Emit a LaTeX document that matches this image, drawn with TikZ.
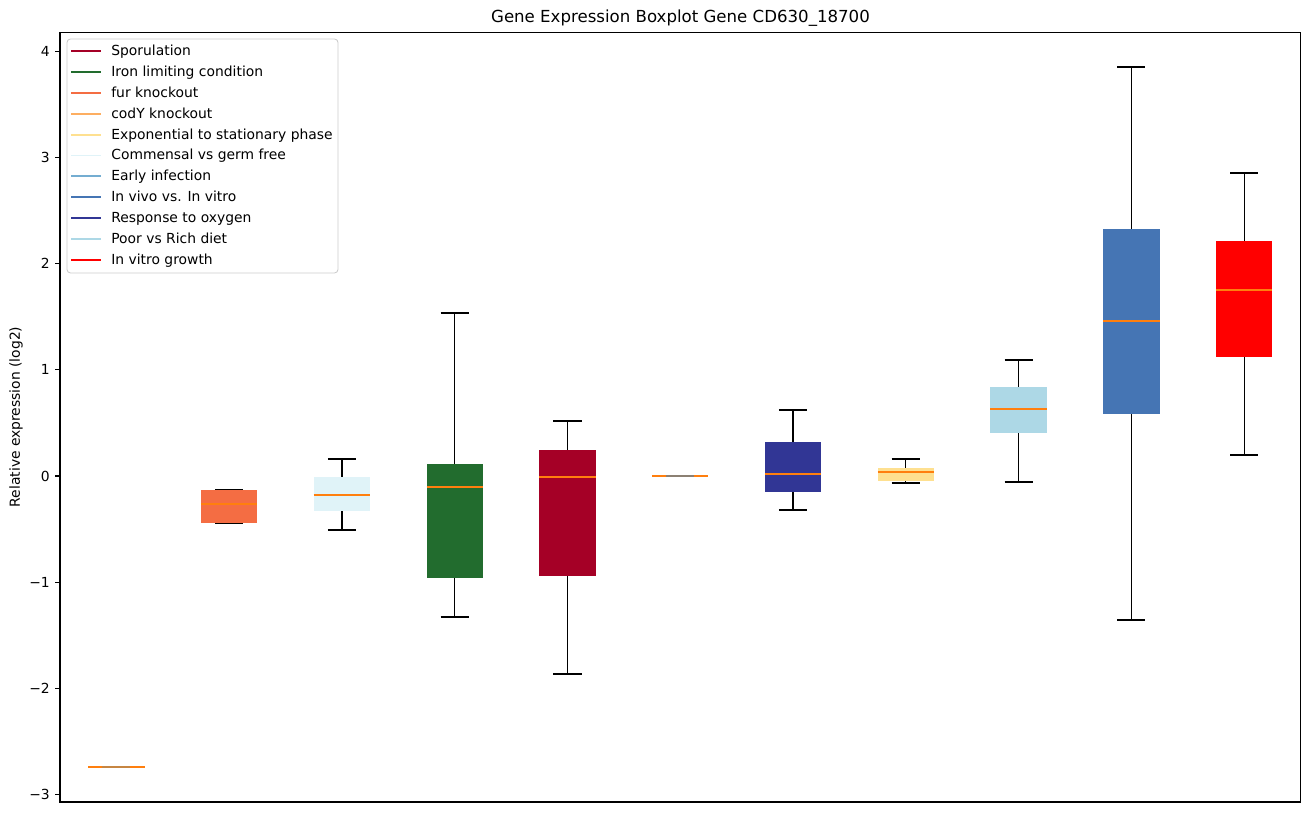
\documentclass[tikz,border=0pt]{standalone}
\usepackage{fontspec}
\setmainfont{DejaVu Sans}
\definecolor{sporRed}{HTML}{A50026}
\definecolor{ironGreen}{RGB}{34,108,46}
\definecolor{furOrange}{HTML}{F46D43}
\definecolor{codyOrange}{HTML}{FDAE61}
\definecolor{expYellow}{HTML}{FEE090}
\definecolor{commBlue}{HTML}{E0F3F8}
\definecolor{earlyBlue}{HTML}{74ADD1}
\definecolor{vivoBlue}{HTML}{4575B4}
\definecolor{oxyBlue}{HTML}{313695}
\definecolor{poorBlue}{HTML}{ADD8E6}
\definecolor{vitroRed}{HTML}{FF0000}
\definecolor{medOrange}{HTML}{FF7F0E}
\definecolor{capBrown}{HTML}{C68642}
\definecolor{legGrey}{RGB}{204,204,204}

\begin{document}
\begin{tikzpicture}[x=0.02cm,y=0.02cm,
    font=\fontsize{7.9}{9.5}\selectfont,
    whisker/.style={black,line width=0.75pt},
    median/.style={medOrange,line width=0.75pt},
    spine/.style={black,line width=0.7pt},
    legline/.style={line width=1.1pt},
    legtext/.style={anchor=base west,inner sep=0pt}]

  \useasboundingbox (0,0) rectangle (1309,813);

  % title and axis label
  \node[font=\fontsize{9.45}{11}\selectfont] (title) at (680.5,795) {Gene Expression Boxplot Gene CD630\_18700};
  \node[rotate=90] (ylabel) at (16,396) {Relative expression (log2)};

  % data area
  \begin{scope}[x=2.256cm,y=2.124cm,shift={(0.072cm,6.74cm)}]

    % boxes: position/low cap/q1/median/q3/high cap/colour
    \foreach \p/\lo/\qa/\med/\qb/\hi/\col in {
        2/-0.443/-0.443/-0.264/-0.132/-0.132/furOrange,
        3/-0.508/-0.330/-0.179/-0.009/0.160/commBlue,
        4/-1.328/-0.960/-0.104/0.113/1.535/ironGreen,
        5/-1.864/-0.942/-0.009/0.245/0.518/sporRed,
        7/-0.320/-0.151/0.019/0.320/0.621/oxyBlue,
        8/-0.066/-0.047/0.038/0.075/0.160/expYellow,
        9/-0.056/0.405/0.631/0.838/1.092/poorBlue,
        10/-1.356/0.584/1.460/2.326/3.851/vivoBlue,
        11/0.198/1.120/1.751/2.213/2.853/vitroRed} {
      \draw[whisker] (\p,\lo) -- (\p,\qa);
      \draw[whisker] (\p,\qb) -- (\p,\hi);
      \draw[whisker] (\p-0.125,\lo) -- (\p+0.125,\lo);
      \draw[whisker] (\p-0.125,\hi) -- (\p+0.125,\hi);
      \fill[\col] (\p-0.25,\qa) rectangle (\p+0.25,\qb);
      \draw[median] (\p-0.25,\med) -- (\p+0.25,\med);
    }

    % flat boxes
    \draw[codyOrange,line width=1.1pt] (0.75,-2.74) -- (1.25,-2.74);
    \draw[capBrown,line width=1.1pt] (0.875,-2.74) -- (1.125,-2.74);
    \draw[median] (0.75,-2.74) -- (0.875,-2.74);
    \draw[median] (1.125,-2.74) -- (1.25,-2.74);
    \draw[earlyBlue!30!codyOrange,line width=1.1pt] (5.75,0) -- (6.25,0);
    \draw[gray!80!brown,line width=1.1pt] (5.875,0) -- (6.125,0);
    \draw[median] (5.75,0) -- (5.875,0);
    \draw[median] (6.125,0) -- (6.25,0);

    % frame and ticks
    \draw[spine] (0.5,-3.07) rectangle (11.5,4.18);
    \foreach \v/\txt in {-3/−3,-2/−2,-1/−1,0/0,1/1,2/2,3/3,4/4} {
      \draw[spine] (0.5,\v) -- (0.4566,\v);
      \node[anchor=east,inner sep=0pt] (tick\v) at (0.4122,\v) {\txt};
    }
  \end{scope}

  % legend
  \draw[legGrey,fill=white,fill opacity=0.8,rounded corners=2pt,line width=0.5pt]
    (67,540) rectangle (338,774);
  \foreach \i/\col/\txt in {
      0/sporRed/Sporulation,
      1/ironGreen/Iron limiting condition,
      2/furOrange/fur knockout,
      3/codyOrange/codY knockout,
      4/expYellow/Exponential to stationary phase,
      5/commBlue/Commensal vs germ free,
      6/earlyBlue/Early infection,
      7/vivoBlue/In vivo vs. In vitro,
      8/oxyBlue/Response to oxygen,
      9/poorBlue/Poor vs Rich diet,
      10/vitroRed/In vitro growth} {
    \coordinate (legA\i) at (71,762-20.9*\i);
    \coordinate (legB\i) at (101,762-20.9*\i);
    \draw[legline,\col] (legA\i) -- (legB\i);
    \node[legtext] (leg\i) at (111,757.5-20.9*\i) {\txt};
  }

\end{tikzpicture}
\end{document}
